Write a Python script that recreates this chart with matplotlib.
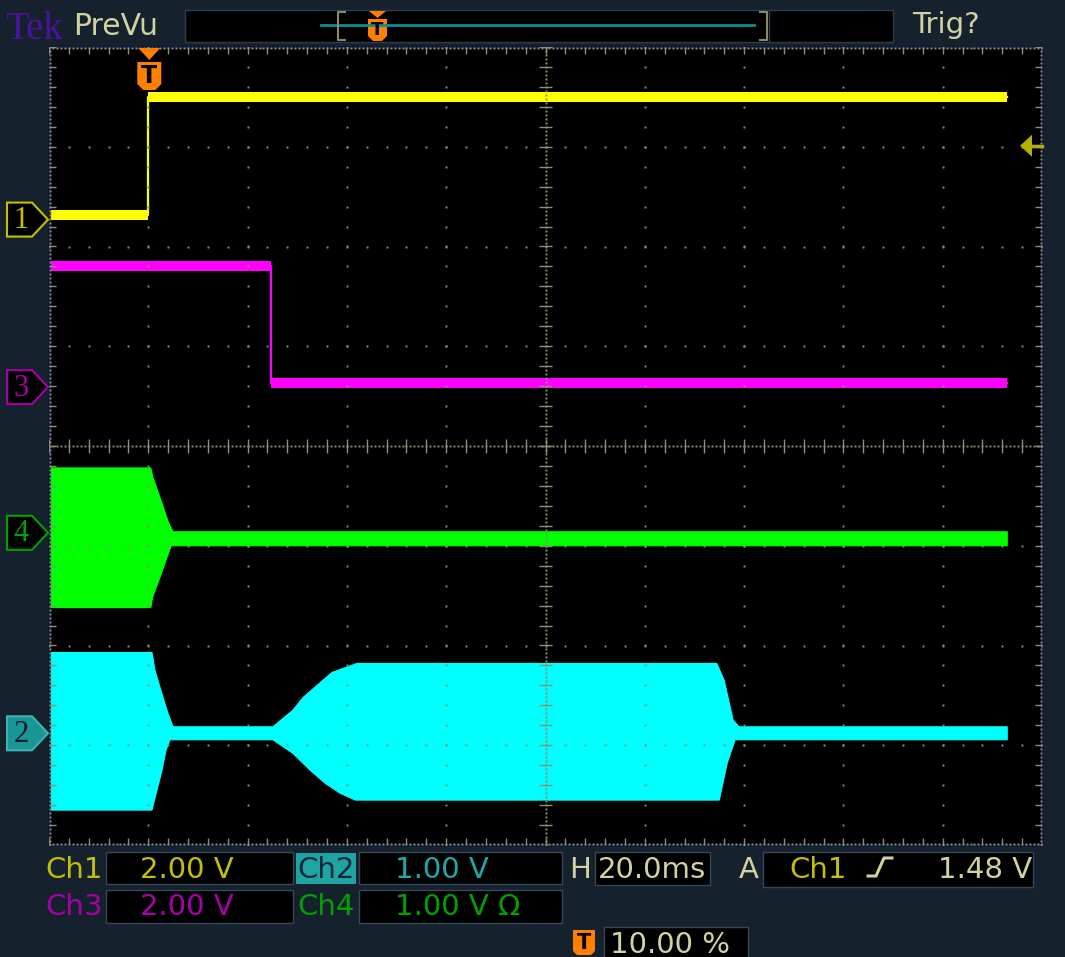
import numpy as np
import matplotlib
matplotlib.use("Agg")
import matplotlib.pyplot as plt
from matplotlib.patches import Polygon, Rectangle

ms_per_div = 20.0          # H 20.0 ms/div
trigger_pct = 10.0         # trigger position 10 %
trigger_level_v = 1.48     # A Ch1 rising 1.48 V

ch_volts_per_div = {"1": 2.0, "2": 1.0, "3": 2.0, "4": 1.0}
ch_offsets_div = {"1": 2.27, "2": -2.88, "3": 0.59, "4": -0.87}

# Ch1: step up at the trigger
ch1_t = [-20.0, 0.0, 0.0, 173.0]
ch1_v = [0.10, 0.10, 2.46, 2.46]
ch1_noise = 0.10

# Ch3: step down
ch3_t = [-20.0, 24.7, 24.7, 173.0]
ch3_v = [2.43, 2.43, 0.08, 0.08]
ch3_noise = 0.10

# Ch4: burst envelope (upper / lower)
ch4_t_hi = [-20.0, 0.5, 0.9, 3.0, 4.0, 5.0, 173.0]
ch4_hi = [0.65, 0.65, 0.56, 0.26, 0.11, 0.01, 0.01]
ch4_t_lo = [-20.0, 0.5, 0.9, 2.4, 3.8, 4.6, 173.0]
ch4_lo = [-0.75, -0.75, -0.64, -0.44, -0.24, -0.13, -0.13]

# Ch2: two bursts envelope (upper / lower)
ch2_t_hi = [-20.0, 0.74, 1.35, 2.96, 3.97, 4.97, 25.1, 29.1, 31.2, 37.0, 42.0, 114.5, 116.0, 117.8, 119.0, 173.0]
ch2_hi = [0.81, 0.81, 0.63, 0.36, 0.20, 0.065, 0.065, 0.23, 0.36, 0.61, 0.70, 0.70, 0.53, 0.13, 0.065, 0.065]
ch2_t_lo = [-20.0, 0.74, 1.75, 2.76, 3.57, 4.37, 25.1, 29.1, 32.6, 35.6, 38.6, 41.7, 115.0, 116.6, 118.2, 173.0]
ch2_lo = [-0.77, -0.77, -0.57, -0.37, -0.17, -0.065, -0.065, -0.20, -0.37, -0.50, -0.60, -0.67, -0.67, -0.30, -0.065, -0.065]

# ---------------- styling ----------------
W, H = 1065, 957
BG = "#16212e"
GRID = "#8f8f72"
KHAKI = "#d2d2a0"
YEL_T, MAG_T, GRN_T, CYN_T = "#ffff00", "#ff00ff", "#00ff00", "#00ffff"
YEL_L, MAG_L, GRN_L, CYN_L = "#c4bf00", "#a800a8", "#00a000", "#1fa8a8"
ORANGE = "#ff7f00"

fig = plt.figure(figsize=(W / 100, H / 100), dpi=100, facecolor=BG)
L, R, T, B = 49, 1042, 47, 845
ax = fig.add_axes([L / W, 1 - B / H, (R - L) / W, (B - T) / H])
ax.set_facecolor("black")
t0 = -trigger_pct / 100 * 10 * ms_per_div
ax.set_xlim(t0, t0 + 10 * ms_per_div)
ax.set_ylim(-4, 4)
ax.set_xticks([])
ax.set_yticks([])
for s in ax.spines.values():
    s.set_color("#0f1a3c")
    s.set_linewidth(2)


def ydiv(ch, v):
    return ch_offsets_div[ch] + np.asarray(v) / ch_volts_per_div[ch]


def div_to_ms(d):
    return t0 + np.asarray(d) * ms_per_div


# ---- traces ----
def step_trace(ch, t, v, noise, color):
    t = np.asarray(t)
    v = np.asarray(v)
    xs = np.concatenate([t, t[::-1]])
    ys = np.concatenate([ydiv(ch, v + noise), ydiv(ch, (v - noise)[::-1])])
    ax.fill(xs, ys, color=color, lw=0, zorder=2)
    ax.plot(t, ydiv(ch, v), color=color, lw=1.6, zorder=2)


def env_trace(ch, th, hi, tl, lo, color):
    xs = np.concatenate([th, tl[::-1]])
    ys = np.concatenate([ydiv(ch, hi), ydiv(ch, lo[::-1])])
    ax.fill(xs, ys, color=color, lw=0.8, ec=color, zorder=2)


step_trace("1", ch1_t, ch1_v, ch1_noise, YEL_T)
step_trace("3", ch3_t, ch3_v, ch3_noise, MAG_T)
env_trace("4", np.array(ch4_t_hi), np.array(ch4_hi), np.array(ch4_t_lo), np.array(ch4_lo), GRN_T)
env_trace("2", np.array(ch2_t_hi), np.array(ch2_hi), np.array(ch2_t_lo), np.array(ch2_lo), CYN_T)

# ---- graticule ----
dkw = dict(ls="none", marker="s", ms=1.4, mew=0, color=GRID, zorder=3)
fine = np.arange(0, 10.0001, 0.2)
dense_x = np.arange(0, 10.0001, 0.04)
fine_y = np.arange(-4, 4.0001, 0.2)
dense_y = np.arange(-4, 4.0001, 0.04)
for d in [1, 2, 3, 4, 6, 7, 8, 9]:
    ax.plot(np.full_like(fine_y, div_to_ms(d)), fine_y, **dkw)
for yy in [-3, -2, -1, 1, 2, 3]:
    ax.plot(div_to_ms(fine), np.full_like(fine, yy), **dkw)
for yy in [0, -3.99, 3.99]:
    ax.plot(div_to_ms(dense_x), np.full_like(dense_x, yy), **dkw)
for d in [5, 0.01, 9.99]:
    ax.plot(np.full_like(dense_y, div_to_ms(d)), dense_y, **dkw)
tick = 0.07
ax.vlines(div_to_ms(fine), -tick, tick, color=GRID, lw=1, zorder=3)
ax.hlines(fine_y, div_to_ms(5 - tick), div_to_ms(5 + tick), color=GRID, lw=1, zorder=3)
ax.vlines(div_to_ms(fine), 4 - tick, 4, color=GRID, lw=1, zorder=3)
ax.vlines(div_to_ms(fine), -4, -4 + tick, color=GRID, lw=1, zorder=3)
ax.hlines(fine_y, div_to_ms(0), div_to_ms(tick), color=GRID, lw=1, zorder=3)
ax.hlines(fine_y, div_to_ms(10 - tick), div_to_ms(10), color=GRID, lw=1, zorder=3)

# ---------------- overlay in pixel coordinates ----------------
ov = fig.add_axes([0, 0, 1, 1], zorder=5)
ov.set_xlim(0, W)
ov.set_ylim(H, 0)
ov.axis("off")


def to_px(t, y):
    d = ax.transData.transform((t, y))
    return d[0], H - d[1]


FONT = "DejaVu Sans"

# ---- top bar ----
ov.text(5, 39, "Tek", color="#4a129e", fontsize=28, family="Liberation Serif", va="baseline")
ov.text(73, 35, "PreVu", color=KHAKI, fontsize=21.5, family=FONT, va="baseline")
ov.add_patch(Rectangle((185, 10), 708, 32, fc="black", ec="#2e3d4c", lw=1))
ov.plot([769, 769], [10, 42], color="#2e3d4c", lw=1)
ov.plot([321, 754], [25, 25], color="#0a9090", lw=2)
ov.plot([345, 338, 338, 345], [12, 12, 40, 40], color="#8a8a68", lw=1.5)
ov.plot([760, 767, 767, 760], [12, 12, 40, 40], color="#8a8a68", lw=1.5)
ov.add_patch(Polygon([(369, 11), (386, 11), (377.5, 18)], closed=True, fc=ORANGE, ec="none"))
ov.add_patch(Polygon([(368, 19), (387, 19), (387, 36), (382, 41), (373, 41), (368, 36)],
                     closed=True, fc=ORANGE, ec="none"))
ov.text(377.5, 30, "T", color="black", fontsize=13, fontweight="bold", ha="center", va="center", family=FONT)
ov.text(912, 33, "Trig?", color=KHAKI, fontsize=21, family=FONT, va="baseline")

# ---- trigger position marker in the plot ----
tx, _ = to_px(0.0, 0.0)
ov.add_patch(Polygon([(tx - 10, 48), (tx + 12, 48), (tx + 1, 60)], closed=True, fc=ORANGE, ec="none"))
ov.add_patch(Polygon([(tx - 11, 62), (tx + 13, 62), (tx + 13, 84), (tx + 7, 90), (tx - 5, 90), (tx - 11, 84)],
                     closed=True, fc=ORANGE, ec="none"))
ov.text(tx + 1, 76, "T", color="black", fontsize=17, fontweight="bold", ha="center", va="center", family=FONT)

# ---- channel ground markers ----
marker_style = {
    "1": dict(fc="black", ec=YEL_L, tc=YEL_L),
    "3": dict(fc="black", ec=MAG_L, tc=MAG_L),
    "4": dict(fc="black", ec=GRN_L, tc=GRN_L),
    "2": dict(fc="#1a9696", ec="#3cb4b4", tc="#0a1a28"),
}
for ch, st in marker_style.items():
    _, cy = to_px(0.0, ch_offsets_div[ch])
    ov.add_patch(Polygon([(7, cy - 17), (32, cy - 17), (48, cy), (32, cy + 17), (7, cy + 17)],
                         closed=True, fc=st["fc"], ec=st["ec"], lw=1.5))
    ov.text(21, cy + 1, ch, color=st["tc"], fontsize=22, ha="center", va="center", family="Liberation Serif")

# ---- trigger level arrow ----
_, ly = to_px(0.0, ch_offsets_div["1"] + trigger_level_v / ch_volts_per_div["1"])
ov.add_patch(Polygon([(1020, ly), (1032, ly - 11), (1032, ly + 11)], closed=True, fc="#b5b000", ec="none"))
ov.plot([1031, 1042], [ly, ly], color="#b5b000", lw=2.5)

# ---- bottom readout ----
BOX = dict(fc="black", ec="#34485a", lw=1)
for (x0, y0, x1, y1) in [(106, 852, 293, 884), (359, 852, 562, 884), (595, 852, 710, 885),
                         (763, 852, 1033, 887), (106, 890, 293, 923), (359, 890, 562, 923),
                         (604, 927, 748, 960)]:
    ov.add_patch(Rectangle((x0, y0), x1 - x0, y1 - y0, **BOX))
ov.add_patch(Rectangle((296, 853), 60, 31, fc="#1fa3a3", ec="none"))

fs = 21
r1, r2, r3 = 878, 915, 953
tk = dict(fontsize=fs, family=FONT, va="baseline")
ov.text(45, r1, "Ch1", color=YEL_L, **tk)
ov.text(140, r1, "2.00 V", color=YEL_L, **tk)
ov.text(297, r1, "Ch2", color="#0e2838", **tk)
ov.text(395, r1, "1.00 V", color=CYN_L, **tk)
ov.text(569, r1, "H", color=KHAKI, **tk)
ov.text(598, r1, "20.0ms", color=KHAKI, **tk)
ov.text(739, r1, "A", color=KHAKI, **tk)
ov.text(789, r1, "Ch1", color=YEL_L, **tk)
ov.plot([868, 876, 884, 892], [876, 876, 858, 858], color=KHAKI, lw=2.2)
ov.text(1032, r1, "1.48 V", color=KHAKI, ha="right", **tk)
ov.text(45, r2, "Ch3", color=MAG_L, **tk)
ov.text(140, r2, "2.00 V", color=MAG_L, **tk)
ov.text(297, r2, "Ch4", color=GRN_L, **tk)
ov.text(395, r2, "1.00 V Ω", color=GRN_L, **tk)
ov.add_patch(Polygon([(573, 930), (595, 930), (595, 951), (591, 955), (577, 955), (573, 951)],
                     closed=True, fc=ORANGE, ec="none"))
ov.text(584, 943, "T", color="black", fontsize=15, fontweight="bold", ha="center", va="center", family=FONT)
ov.text(610, r3, "10.00 %", color=KHAKI, **tk)

fig.savefig("out.png", dpi=100, facecolor=BG)
